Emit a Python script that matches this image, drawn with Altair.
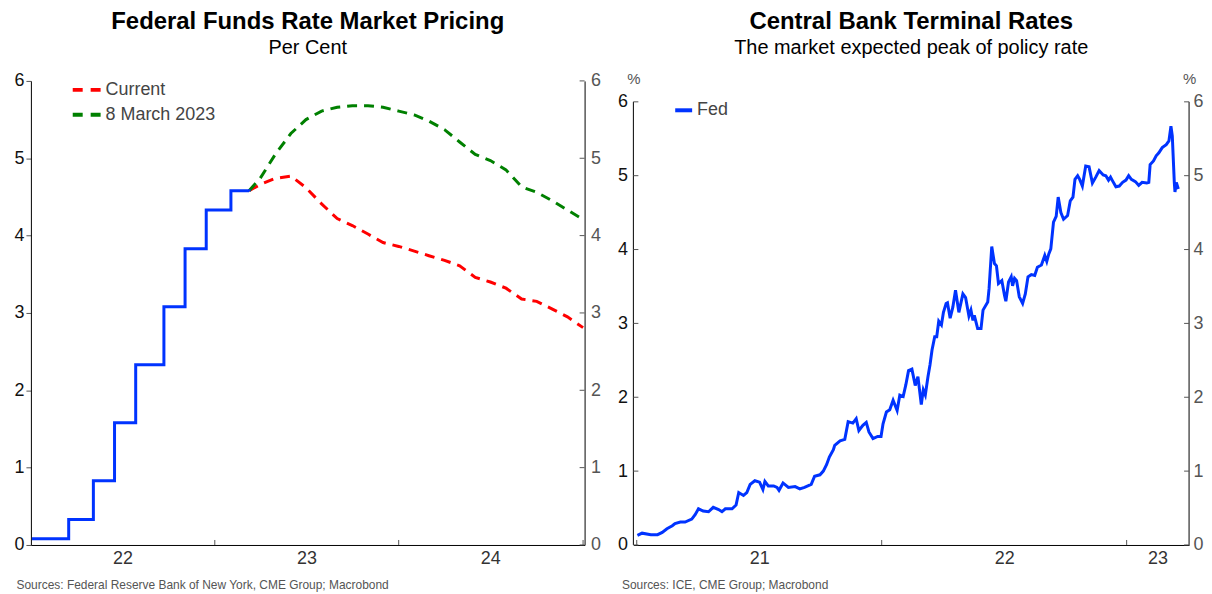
import altair as alt
import pandas as pd

FONT = "Liberation Sans"
BLUE = "#0033FF"
RED = "#FF0000"
GREEN = "#008000"

# ---------------- Left panel data ----------------
effr_dates = ["2022-01-03", "2022-03-17", "2022-05-05", "2022-06-16", "2022-07-28",
              "2022-09-22", "2022-11-03", "2022-12-15", "2023-02-02", "2023-03-10"]
effr_values = [0.08, 0.33, 0.83, 1.58, 2.33, 3.08, 3.83, 4.33, 4.58, 4.57]

path_dates = ["2023-03-10", "2023-04-01", "2023-05-01", "2023-06-01", "2023-07-01",
              "2023-08-01", "2023-09-01", "2023-10-01", "2023-11-01", "2023-12-01",
              "2024-01-01", "2024-02-01", "2024-03-01", "2024-04-01", "2024-05-01",
              "2024-06-01", "2024-07-01", "2024-08-01", "2024-09-01", "2024-10-01",
              "2024-11-01", "2024-12-01", "2025-01-01"]
current_path = [4.58, 4.66, 4.74, 4.77, 4.62, 4.41, 4.22, 4.13, 4.02, 3.91,
                3.86, 3.80, 3.74, 3.68, 3.61, 3.46, 3.40, 3.32, 3.18, 3.15,
                3.05, 2.95, 2.81]
march8_path = [4.58, 4.74, 5.05, 5.32, 5.50, 5.61, 5.66, 5.68, 5.68, 5.66,
               5.61, 5.56, 5.48, 5.37, 5.21, 5.05, 4.97, 4.85, 4.63, 4.56,
               4.45, 4.33, 4.21]
path_series = ["Current", "8 March 2023"]

# ---------------- Right panel data ----------------
fed_dates = [
    "2021-01-02", "2021-01-09", "2021-01-22", "2021-02-01", "2021-02-08", "2021-02-15",
    "2021-02-23", "2021-02-27", "2021-03-07", "2021-03-14", "2021-03-24", "2021-03-29",
    "2021-04-03", "2021-04-10", "2021-04-18", "2021-04-25", "2021-05-03", "2021-05-08",
    "2021-05-13", "2021-05-23", "2021-05-29", "2021-06-02", "2021-06-09", "2021-06-14",
    "2021-06-19", "2021-06-26", "2021-07-03", "2021-07-08", "2021-07-11", "2021-07-16",
    "2021-07-24", "2021-07-29", "2021-08-01", "2021-08-07", "2021-08-15", "2021-08-25",
    "2021-09-01", "2021-09-08", "2021-09-18", "2021-09-23", "2021-10-01", "2021-10-06",
    "2021-10-11", "2021-10-15", "2021-10-21", "2021-10-23", "2021-10-31", "2021-11-07",
    "2021-11-12", "2021-11-19", "2021-11-24", "2021-11-28", "2021-12-04", "2021-12-09",
    "2021-12-13", "2021-12-19", "2021-12-26", "2021-12-31", "2022-01-03", "2022-01-08",
    "2022-01-13", "2022-01-18", "2022-01-24", "2022-01-28", "2022-02-02", "2022-02-06",
    "2022-02-10", "2022-02-15", "2022-02-20", "2022-02-24", "2022-03-01", "2022-03-04",
    "2022-03-07", "2022-03-11", "2022-03-14", "2022-03-17", "2022-03-21", "2022-03-24",
    "2022-03-27", "2022-03-31", "2022-04-03", "2022-04-07", "2022-04-09", "2022-04-13",
    "2022-04-17", "2022-04-21", "2022-04-26", "2022-05-02", "2022-05-06", "2022-05-11",
    "2022-05-14", "2022-05-17", "2022-05-19", "2022-05-24", "2022-05-29", "2022-06-01",
    "2022-06-08", "2022-06-10", "2022-06-14", "2022-06-18", "2022-06-21", "2022-06-24",
    "2022-06-29", "2022-07-03", "2022-07-05", "2022-07-09", "2022-07-13", "2022-07-15",
    "2022-07-18", "2022-07-21", "2022-07-25", "2022-07-30", "2022-08-03", "2022-08-07",
    "2022-08-12", "2022-08-17", "2022-08-21", "2022-08-27", "2022-09-01", "2022-09-04",
    "2022-09-07", "2022-09-10", "2022-09-14", "2022-09-18", "2022-09-21", "2022-09-25",
    "2022-09-29", "2022-10-05", "2022-10-09", "2022-10-13", "2022-10-16", "2022-10-20",
    "2022-10-23", "2022-10-27", "2022-11-01", "2022-11-06", "2022-11-11", "2022-11-16",
    "2022-11-21", "2022-11-27", "2022-12-01", "2022-12-05", "2022-12-08", "2022-12-11",
    "2022-12-16", "2022-12-21", "2022-12-26", "2022-12-31", "2023-01-04", "2023-01-08",
    "2023-01-14", "2023-01-19", "2023-01-24", "2023-01-31", "2023-02-03", "2023-02-05",
    "2023-02-10", "2023-02-14", "2023-02-18", "2023-02-23", "2023-03-01", "2023-03-05",
    "2023-03-08", "2023-03-10", "2023-03-13", "2023-03-14", "2023-03-16", "2023-03-19",
]
fed_values = [
    0.13, 0.16, 0.14, 0.14, 0.17, 0.22,
    0.26, 0.29, 0.31, 0.31, 0.35, 0.41,
    0.49, 0.46, 0.45, 0.51, 0.48, 0.45,
    0.49, 0.49, 0.54, 0.71, 0.67, 0.71,
    0.82, 0.87, 0.85, 0.75, 0.86, 0.80,
    0.80, 0.78, 0.74, 0.84, 0.78, 0.79,
    0.76, 0.78, 0.82, 0.93, 0.95, 1.00,
    1.09, 1.19, 1.29, 1.35, 1.41, 1.43,
    1.67, 1.65, 1.71, 1.55, 1.62, 1.66,
    1.53, 1.44, 1.47, 1.47, 1.64, 1.80,
    1.83, 1.96, 1.82, 2.03, 2.01, 2.17,
    2.36, 2.38, 2.16, 2.28, 1.90, 2.10,
    2.03, 2.28, 2.44, 2.64, 2.82, 2.82,
    3.03, 2.98, 3.15, 3.27, 3.28, 3.07,
    3.22, 3.45, 3.15, 3.40, 3.35, 3.10,
    3.18, 3.04, 3.11, 2.93, 2.93, 3.18,
    3.29, 3.47, 4.04, 3.81, 3.78, 3.54,
    3.58, 3.38, 3.30, 3.56, 3.63, 3.51,
    3.61, 3.58, 3.36, 3.27, 3.40, 3.63,
    3.66, 3.65, 3.76, 3.79, 3.92, 3.84,
    3.94, 4.01, 4.37, 4.45, 4.71, 4.50,
    4.41, 4.46, 4.66, 4.71, 4.95, 5.00,
    4.95, 4.86, 5.13, 5.12, 4.90, 4.98,
    5.07, 5.01, 5.00, 4.94, 4.98, 4.93,
    4.85, 4.86, 4.91, 4.94, 5.00, 4.95,
    4.92, 4.87, 4.91, 4.90, 4.91, 5.15,
    5.20, 5.27, 5.31, 5.38, 5.42, 5.47,
    5.67, 5.54, 4.91, 4.78, 4.91, 4.82,
]
fed_series = "Fed"

y_ticks = [0, 1, 2, 3, 4, 5, 6]
y_axis_span = [0, 6]
left_year_ticks = ["2023-01-01", "2024-01-01", "2025-01-01"]
right_year_ticks = ["2021-01-01", "2022-01-01", "2023-01-01"]

SRC_LEFT = "Sources: Federal Reserve Bank of New York, CME Group; Macrobond"
SRC_RIGHT = "Sources: ICE, CME Group; Macrobond"

# ---------------- Frames ----------------
effr_df = pd.DataFrame({"date": effr_dates, "rate": effr_values})
n = len(path_dates)
path_df = pd.DataFrame({
    "date": path_dates * 2,
    "rate": current_path + march8_path,
    "series": [path_series[0]] * n + [path_series[1]] * n,
})
fed_df = pd.DataFrame({"date": fed_dates, "rate": fed_values, "series": fed_series})
ytick_df = pd.DataFrame({"value": y_ticks})
span_df = pd.DataFrame({"lo": [y_axis_span[0]], "hi": [y_axis_span[1]]})
lxt_df = pd.DataFrame({"date": left_year_ticks})
rxt_df = pd.DataFrame({"date": right_year_ticks})


def DT(y, m, d):
    return alt.DateTime(year=y, month=m, date=d)


W1, H = 556, 466
W2 = 558
# right panel: 6 sits 21px below the top of the (shared-height) plot area
Y2_MAX = 6 * H / 445.0
TICK = "#555555"

label_common = dict(labelFont=FONT, labelFontSize=18, grid=False)
src_common = dict(titleAlign="left", titleAnchor="start", titleBaseline="middle",
                  titleFontSize=12, titleFontWeight="normal", titleColor="#555555",
                  titleFont=FONT, titleY=40)
title_common = dict(font=FONT, subtitleFont=FONT, fontSize=24, fontWeight="bold",
                    subtitleFontSize=20, color="black", subtitleColor="black",
                    anchor="middle", frame="group", offset=14, subtitlePadding=4)

# ---------------- Left panel ----------------
x1 = alt.X("date:T",
           scale=alt.Scale(domain=[DT(2022, 1, 1), DT(2025, 1, 4)]),
           axis=alt.Axis(values=[DT(2022, 1, 1), DT(2023, 1, 1), DT(2024, 1, 1)],
                         format="%y", labelOffset=92, ticks=False, tickSize=0,
                         labelPadding=5, labelFlush=False, labelOverlap=False,
                         domainColor="black", labelColor="#333333",
                         title=SRC_LEFT, titleX=-15, **src_common, **label_common))
y1_scale = alt.Scale(domain=[0, 6], nice=False)

paths = alt.Chart(path_df).mark_line(strokeWidth=3, strokeDash=[10, 7]).encode(
    x=x1,
    y=alt.Y("rate:Q", scale=y1_scale, axis=None),
    color=alt.Color("series:N",
                    scale=alt.Scale(domain=path_series, range=[RED, GREEN]),
                    legend=alt.Legend(title=None, orient="none", legendX=40, legendY=-7,
                                      symbolType="stroke", symbolSize=784,
                                      symbolStrokeWidth=4, symbolDash=[10, 8],
                                      labelFont=FONT, labelFontSize=18,
                                      labelColor="#444444", labelOffset=3,
                                      rowPadding=-5)),
)
effr = alt.Chart(effr_df).mark_line(interpolate="step-after", color=BLUE, strokeWidth=3).encode(
    x=x1,
    y=alt.Y("rate:Q", scale=y1_scale,
            axis=alt.Axis(orient="left", values=y_ticks, tickSize=5, tickColor=TICK,
                          domainColor="black", labelPadding=2, labelColor="#111111",
                          title=None, **label_common)),
)
ytick_r1 = alt.Chart(ytick_df).mark_rule(color=TICK).encode(
    y=alt.Y("value:Q", scale=y1_scale,
            axis=alt.Axis(orient="right", values=y_ticks, ticks=False, tickSize=0,
                          domainColor="black", labelPadding=6, labelColor="#555555",
                          title=None, **label_common)),
    x=alt.value(W1 - 5), x2=alt.value(W1),
)
xtick1 = alt.Chart(lxt_df).mark_rule(color=TICK).encode(
    x=x1, y=alt.value(H - 5), y2=alt.value(H),
)

left = alt.layer(paths, effr, ytick_r1, xtick1).resolve_axis(y="independent").properties(
    width=W1, height=H,
    title=alt.TitleParams(text="Federal Funds Rate Market Pricing", subtitle="Per Cent",
                          **title_common),
)

# ---------------- Right panel ----------------
x2 = alt.X("date:T",
           scale=alt.Scale(domain=[DT(2020, 12, 27), DT(2023, 4, 4)]),
           axis=alt.Axis(values=[DT(2021, 1, 1), DT(2022, 1, 1), DT(2023, 1, 1)],
                         format="%y",
                         labelOffset={"condition": {"test": "year(datum.value) == 2023", "value": 31},
                                      "value": 123},
                         ticks=False, tickSize=0,
                         labelPadding=5, labelFlush=False, labelOverlap=False,
                         domainColor="black", labelColor="#333333",
                         title=SRC_RIGHT, titleX=-12, **src_common, **label_common))
y2_scale = alt.Scale(domain=[0, Y2_MAX], nice=False)
pct_title = dict(title="%", titleAngle=0, titleX=0, titleY=-2, titleAlign="center",
                 titleBaseline="middle", titleFont=FONT, titleFontSize=15,
                 titleFontWeight="normal", titleColor="#555555")

fed = alt.Chart(fed_df).mark_line(strokeWidth=3).encode(
    x=x2,
    y=alt.Y("rate:Q", scale=y2_scale,
            axis=alt.Axis(orient="left", values=y_ticks, ticks=False, tickSize=0,
                          domain=False, labelPadding=6, labelColor="#111111",
                          **pct_title, **label_common)),
    color=alt.Color("series:N",
                    scale=alt.Scale(domain=[fed_series], range=[BLUE]),
                    legend=alt.Legend(title=None, orient="none", legendX=40, legendY=19,
                                      symbolType="stroke", symbolSize=289,
                                      symbolStrokeWidth=4, labelFont=FONT,
                                      labelFontSize=18, labelColor="#444444",
                                      labelOffset=3)),
)
span_l2 = alt.Chart(span_df).mark_rule(color="black").encode(
    y=alt.Y("lo:Q", scale=y2_scale, axis=None), y2="hi:Q", x=alt.value(0),
)
span_r2 = alt.Chart(span_df).mark_rule(color="black").encode(
    y=alt.Y("lo:Q", scale=y2_scale, axis=None), y2="hi:Q", x=alt.value(W2),
)
ytick_l2 = alt.Chart(ytick_df).mark_rule(color=TICK).encode(
    y=alt.Y("value:Q", scale=y2_scale, axis=None),
    x=alt.value(0), x2=alt.value(5),
)
ytick_r2 = alt.Chart(ytick_df).mark_rule(color=TICK).encode(
    y=alt.Y("value:Q", scale=y2_scale,
            axis=alt.Axis(orient="right", values=y_ticks, ticks=False, tickSize=0,
                          domain=False, labelPadding=4, labelColor="#555555",
                          **pct_title, **label_common)),
    x=alt.value(W2 - 5), x2=alt.value(W2),
)
xtick2 = alt.Chart(rxt_df).mark_rule(color=TICK).encode(
    x=x2, y=alt.value(H - 5), y2=alt.value(H),
)

right = alt.layer(fed, span_l2, span_r2, ytick_l2, ytick_r2, xtick2).resolve_axis(
    y="independent").properties(
    width=W2, height=H,
    title=alt.TitleParams(text="Central Bank Terminal Rates",
                          subtitle="The market expected peak of policy rate",
                          **title_common),
)

chart = alt.hconcat(left, right, spacing=15).resolve_scale(color="independent").properties(
    padding={"left": 5, "top": 1, "right": 0, "bottom": 0}
).configure_view(stroke=None).configure_axis(grid=False)

chart.save("out.html", embed_options={"renderer": "svg", "actions": False})
